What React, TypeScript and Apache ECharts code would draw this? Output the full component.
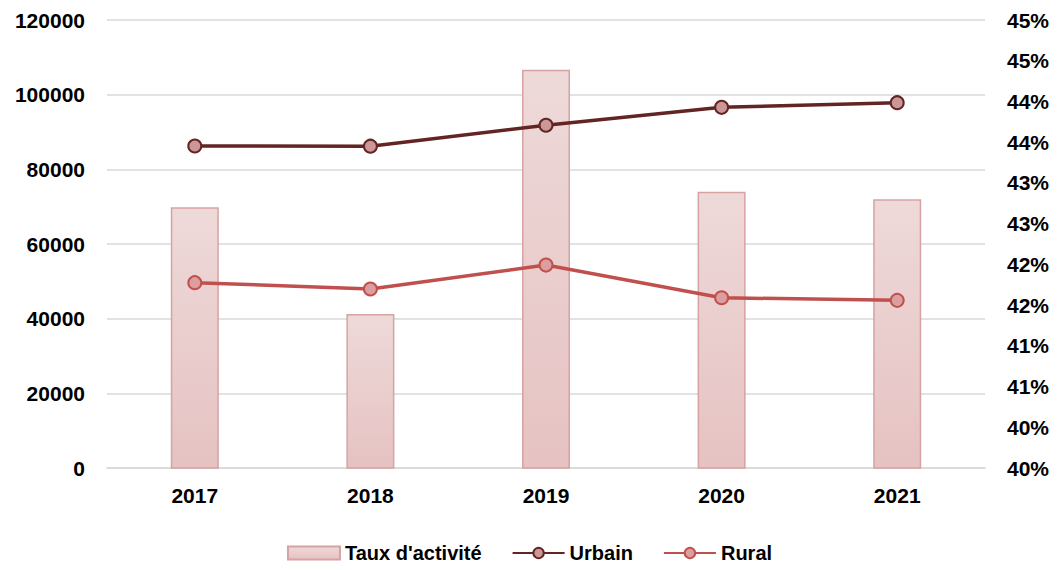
import React, { useEffect, useRef } from "react";
import * as echarts from "echarts";

const categories = ["2017", "2018", "2019", "2020", "2021"];
const tauxActivite = [42.7, 41.39, 44.39, 42.89, 42.8];
const urbain = [86250, 86200, 91800, 96600, 97850];
const rural = [49650, 47950, 54350, 45600, 44900];

const FONT = "'Liberation Sans', Arial, sans-serif";

export default function App() {
  const ref = useRef<HTMLDivElement>(null);
  useEffect(() => {
    if (!ref.current) return;
    const chart = echarts.init(ref.current, undefined, { renderer: "svg" });
    const textBase = { fontFamily: FONT, fontWeight: "bold" as const, fontSize: 21, color: "#000" };
    chart.setOption({
      animation: false,
      backgroundColor: "#fff",
      grid: { left: 107, right: 74, top: 20, bottom: 102, containLabel: false },
      legend: {
        bottom: 2,
        left: "center",
        itemWidth: 52,
        itemHeight: 13,
        itemGap: 30,
        textStyle: { ...textBase, fontSize: 20 },
        data: [
          { name: "Taux d'activité", icon: "rect" },
          { name: "Urbain" },
          { name: "Rural" },
        ],
      },
      xAxis: {
        type: "category",
        data: categories,
        axisTick: { show: false },
        axisLine: { show: true, lineStyle: { color: "#d9d9d9", width: 1.5 } },
        axisLabel: { ...textBase, margin: 17 },
      },
      yAxis: [
        {
          type: "value",
          min: 0,
          max: 120000,
          interval: 20000,
          axisLine: { show: false },
          axisTick: { show: false },
          splitLine: { show: true, lineStyle: { color: "#d9d9d9", width: 1.5 } },
          axisLabel: { ...textBase, margin: 22, formatter: (v: number) => String(v) },
        },
        {
          type: "value",
          min: 39.5,
          max: 45,
          interval: 0.5,
          position: "right",
          axisLine: { show: false },
          axisTick: { show: false },
          splitLine: { show: false },
          axisLabel: {
            ...textBase,
            margin: 22,
            formatter: (v: number) => Math.round(v) + "%",
          },
        },
      ],
      series: [
        {
          name: "Taux d'activité",
          type: "bar",
          yAxisIndex: 1,
          data: tauxActivite,
          barWidth: 48,
          itemStyle: {
            color: new echarts.graphic.LinearGradient(0, 0, 0, 1, [
              { offset: 0, color: "#eed9d9" },
              { offset: 1, color: "#e6c2c2" },
            ]),
            borderColor: "#d6a2a2",
            borderWidth: 1.5,
          },
          z: 1,
        },
        {
          name: "Urbain",
          type: "line",
          data: urbain,
          symbol: "circle",
          symbolSize: 13,
          lineStyle: { color: "#632523", width: 3.5 },
          itemStyle: { color: "#cc9797", borderColor: "#632523", borderWidth: 2 },
          z: 3,
        },
        {
          name: "Rural",
          type: "line",
          data: rural,
          symbol: "circle",
          symbolSize: 13,
          lineStyle: { color: "#c0504d", width: 3.5 },
          itemStyle: { color: "#dc9e9e", borderColor: "#c0504d", borderWidth: 2 },
          z: 3,
        },
      ],
    });
    return () => chart.dispose();
  }, []);
  return (
    <div
      ref={ref}
      style={{ position: "fixed", left: 0, top: 0, width: 1059, height: 570 }}
    />
  );
}
